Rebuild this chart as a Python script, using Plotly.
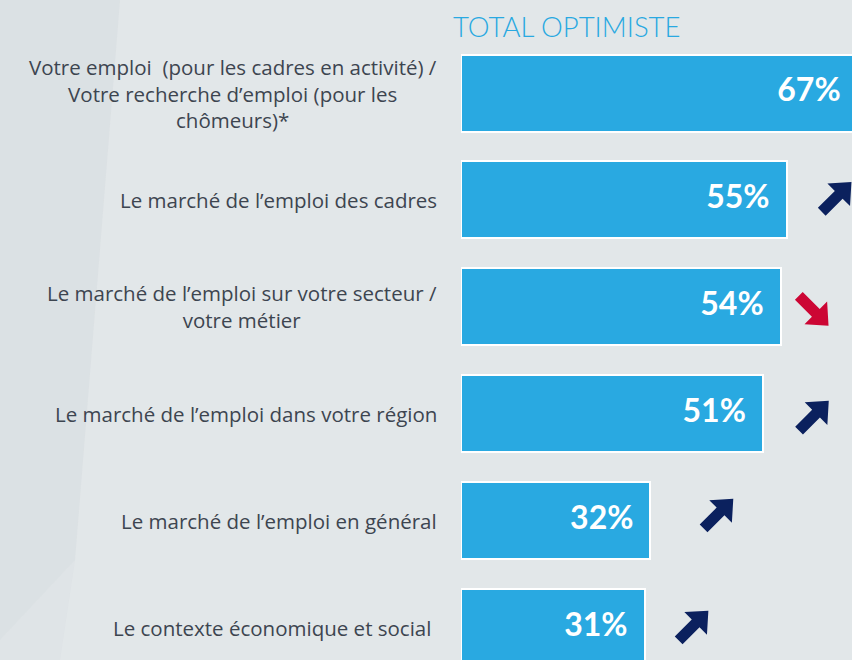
import math
import plotly.graph_objects as go

# ---- data ----
categories = [
    "Votre emploi  (pour les cadres en activité) /<br>Votre recherche d’emploi (pour les<br>chômeurs)*",
    "Le marché de l’emploi des cadres",
    "Le marché de l’emploi sur votre secteur /<br>votre métier",
    "Le marché de l’emploi dans votre région",
    "Le marché de l’emploi en général",
    "Le contexte économique et social ",
]
values = [67, 55, 54, 51, 32, 31]
trend = [None, "up", "down", "up", "up", "up"]
title_text = "TOTAL OPTIMISTE"

# ---- style ----
W, H = 852, 660
PLOT_LEFT = 461
PX_PER_PCT = 5.92
ROW_PX = 106.9
FIRST_CENTER = 93
BAR_BLUE = "#29A9E1"
NAVY = "#0B215E"
RED = "#CC0634"
LABEL_COLOR = "#3D4550"
arrow_dx = [0, 50, 33, 51, 68, 49]   # pixel gap bar-end -> arrow centre
arrow_dy = [0, -3, 4, 2, -7, -2]     # pixel offset (screen, down +)

idx = list(range(len(values)))
x_max = (W - PLOT_LEFT) / PX_PER_PCT
y_top = -FIRST_CENTER / ROW_PX
y_bot = (H - FIRST_CENTER) / ROW_PX

fig = go.Figure()
fig.add_trace(go.Bar(
    x=values, y=idx, orientation="h",
    width=77 / ROW_PX,
    marker=dict(color=BAR_BLUE, line=dict(color="white", width=2)),
    hoverinfo="skip",
))
pad = 17 / PX_PER_PCT
fig.add_trace(go.Scatter(
    x=[v - pad for v in values], y=idx, mode="text",
    text=[f"{v}%" for v in values], textposition="middle left",
    textfont=dict(family="Lato", size=32, color="white", weight="bold"),
    cliponaxis=False, hoverinfo="skip",
))

# arrow outline in local pixel coords, pointing along +u
L, SW, HW, HB = 21, 5.5, 16, 3
arrow_local = [(-L, -SW), (HB, -SW), (HB, -HW), (L, 0), (HB, HW), (HB, SW), (-L, SW)]

for i, t in enumerate(trend):
    if t is None:
        continue
    ang = -math.pi / 4 if t == "up" else math.pi / 4  # screen coords (y down)
    ca, sa = math.cos(ang), math.sin(ang)
    xs, ys = [], []
    for u, v in arrow_local + [arrow_local[0]]:
        sx = u * ca - v * sa + arrow_dx[i]
        sy = u * sa + v * ca + arrow_dy[i]
        xs.append(values[i] + sx / PX_PER_PCT)
        ys.append(i + sy / ROW_PX)
    fig.add_trace(go.Scatter(
        x=xs, y=ys, mode="lines", fill="toself",
        fillcolor=NAVY if t == "up" else RED,
        line=dict(width=0, color=NAVY if t == "up" else RED),
        hoverinfo="skip",
    ))

annotations = []
for i, lab in enumerate(categories):
    annotations.append(dict(
        xref="paper", yref="y", x=0, y=i, xanchor="right", yanchor="middle",
        xshift=-22, text=lab, showarrow=False, align="center",
        font=dict(family="Open Sans", size=20.5, color=LABEL_COLOR),
    ))

annotations.append(dict(
    xref="paper", yref="paper", x=0, y=1 - 27 / H, xanchor="left",
    yanchor="middle", xshift=-10, text=title_text, showarrow=False,
    font=dict(family="Lato", size=27.5, color=BAR_BLUE, weight=300),
))

def px(xp):
    return (xp - PLOT_LEFT) / (W - PLOT_LEFT)

def py(yp):
    return 1 - yp / H

shapes = [
    dict(type="path", xref="paper", yref="paper", layer="below",
         path=f"M {px(0)} {py(0)} L {px(120)} {py(0)} L {px(75)} {py(560)} L {px(0)} {py(640)} Z",
         fillcolor="#D8DDE1", line=dict(width=0), opacity=0.45),
    dict(type="path", xref="paper", yref="paper", layer="below",
         path=f"M {px(120)} {py(0)} L {px(852)} {py(0)} L {px(852)} {py(660)} L {px(60)} {py(660)} L {px(75)} {py(560)} Z",
         fillcolor="#E6EAEC", line=dict(width=0), opacity=0.5),
]

fig.update_layout(
    width=W, height=H,
    margin=dict(l=PLOT_LEFT, r=0, t=0, b=0),
    paper_bgcolor="#DFE4E7", plot_bgcolor="rgba(0,0,0,0)",
    showlegend=False,
    xaxis=dict(range=[0, x_max], visible=False, fixedrange=True),
    yaxis=dict(range=[y_bot, y_top], visible=False, fixedrange=True),
    annotations=annotations, shapes=shapes,
    bargap=0,
)

fig.write_html(
    "out.html",
    config={"displayModeBar": False},
    post_script="document.body.style.margin='0';document.body.style.overflow='hidden';",
)
